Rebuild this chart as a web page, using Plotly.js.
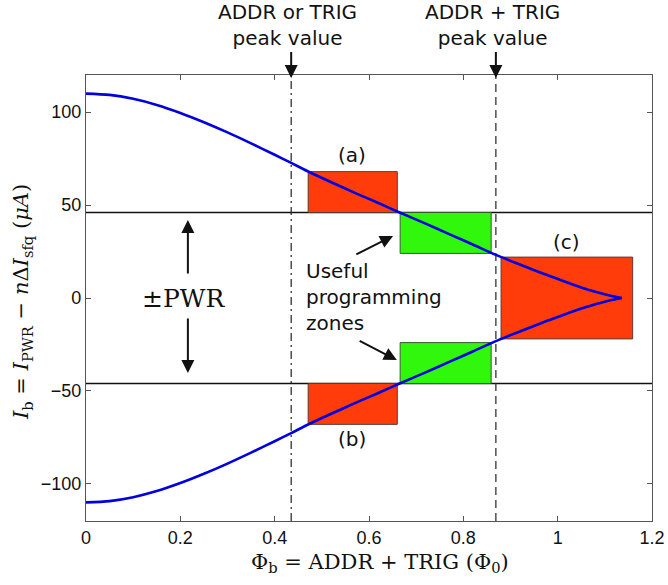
<!DOCTYPE html>
<html>
<head>
<meta charset="utf-8">
<script src="https://cdn.plot.ly/plotly-3.0.1.min.js"></script>
<style>html,body{margin:0;padding:0;background:#fff;}#chart{width:668px;height:585px;}</style>
</head>
<body>
<div id="chart"></div>
<script>
// Upper branch of the bias curve (phi in Phi0, current in uA)
var phiUpper = [0, 0.05, 0.1, 0.15, 0.2, 0.25, 0.3, 0.35, 0.4, 0.435, 0.47, 0.52, 0.57, 0.62, 0.665, 0.72, 0.77, 0.82, 0.869, 0.92, 0.97, 1.01, 1.05, 1.08, 1.11, 1.136];
var ibUpper  = [110, 109.3, 107.2, 103.9, 99.6, 94.6, 89.1, 83.2, 77.1, 72.7, 68.2, 62.3, 56.6, 51.1, 46, 40, 34.4, 28.8, 23.2, 18, 13, 9.3, 5.7, 3.3, 1.3, 0];
// Lower branch
var phiLower = [0, 0.05, 0.1, 0.15, 0.2, 0.25, 0.3, 0.35, 0.4, 0.435, 0.47, 0.52, 0.57, 0.62, 0.665, 0.72, 0.77, 0.82, 0.869, 0.92, 0.97, 1.01, 1.05, 1.08, 1.11, 1.136];
var ibLower  = [-110, -109.3, -107.2, -103.9, -99.6, -94.6, -89.1, -83.2, -77.1, -72.7, -68.2, -62.3, -56.6, -51.1, -46, -40, -34.4, -28.8, -23.2, -18, -13, -9.3, -5.7, -3.3, -1.3, 0];

// Power levels +/-PWR
var pwrLevels = [46, -46];
// Peak value markers
var peakPhi = [0.435, 0.869];
var peakLabels = ['ADDR or TRIG<br>peak value', 'ADDR + TRIG<br>peak value'];

// Zones: red (a), (b), (c)
var redX0 = [0.471, 0.471, 0.880];
var redX1 = [0.660, 0.660, 1.159];
var redY0 = [46, -68, -22];
var redY1 = [68, -46, 22];
var redLabels = ['(a)', '(b)', '(c)'];
var redLabelX = [0.564, 0.564, 1.019];
var redLabelY = [77, -76, 30];
// Green useful zones
var greenX0 = [0.666, 0.666];
var greenX1 = [0.859, 0.859];
var greenY0 = [24, -46];
var greenY1 = [46, -24];

var xTicks = [0, 0.2, 0.4, 0.6, 0.8, 1, 1.2];
var xTickText = ['0', '0.2', '0.4', '0.6', '0.8', '1', '1.2'];
var yTicks = [-100, -50, 0, 50, 100];
var yTickText = ['\u2212100', '\u221250', '0', '50', '100'];

var traces = [
  {x: phiUpper, y: ibUpper, mode: 'lines', line: {color: 'rgb(0,0,225)', width: 2.6, shape: 'spline', smoothing: 0.8}, hoverinfo: 'skip'},
  {x: phiLower, y: ibLower, mode: 'lines', line: {color: 'rgb(0,0,225)', width: 2.6, shape: 'spline', smoothing: 0.8}, hoverinfo: 'skip'}
];

var shapes = [];
for (var i = 0; i < redX0.length; i++) {
  shapes.push({type: 'rect', xref: 'x', yref: 'y', x0: redX0[i], x1: redX1[i], y0: redY0[i], y1: redY1[i],
    fillcolor: '#ff3c0a', line: {color: '#5a3a30', width: 1}, layer: 'below'});
}
for (var i = 0; i < greenX0.length; i++) {
  shapes.push({type: 'rect', xref: 'x', yref: 'y', x0: greenX0[i], x1: greenX1[i], y0: greenY0[i], y1: greenY1[i],
    fillcolor: '#30f70c', line: {color: '#3a5a30', width: 1}, layer: 'below'});
}
for (var i = 0; i < pwrLevels.length; i++) {
  shapes.push({type: 'line', xref: 'paper', yref: 'y', x0: 0, x1: 1, y0: pwrLevels[i], y1: pwrLevels[i],
    line: {color: '#111', width: 1.6}, layer: 'below'});
}
for (var i = 0; i < peakPhi.length; i++) {
  shapes.push({type: 'line', xref: 'x', yref: 'paper', x0: peakPhi[i], x1: peakPhi[i], y0: 0, y1: 1,
    line: {color: '#222', width: 1.2, dash: i === 0 ? '8px,4px,2px,4px' : '8px,5px'}, layer: 'below'});
}

var annFont = {family: 'DejaVu Sans, sans-serif', size: 20, color: '#111'};
var annotations = [];
for (var i = 0; i < peakPhi.length; i++) {
  annotations.push({xref: 'x', yref: 'paper', x: peakPhi[i], y: 0.993, yanchor: 'bottom', text: '', showarrow: true,
    arrowhead: 2, arrowsize: 1.3, arrowwidth: 2, arrowcolor: '#111', ax: 0, ay: -26, standoff: 0});
  annotations.push({xref: 'x', yref: 'paper', x: peakPhi[i] - 0.008, y: 1.112, yanchor: 'middle', xanchor: 'center',
    text: peakLabels[i], showarrow: false, font: annFont, align: 'center'});
}
for (var i = 0; i < redLabels.length; i++) {
  annotations.push({xref: 'x', yref: 'y', x: redLabelX[i], y: redLabelY[i], text: redLabels[i], showarrow: false, font: annFont});
}
// Useful programming zones
annotations.push({xref: 'x', yref: 'y', x: 0.462, y: 0.5, xanchor: 'left', align: 'left',
  text: 'Useful<br>programming<br>zones', showarrow: false, font: annFont});
annotations.push({xref: 'x', yref: 'y', axref: 'x', ayref: 'y', x: 0.651, y: 33.4, ax: 0.570, ay: 23.1, text: '',
  showarrow: true, arrowhead: 2, arrowsize: 1.3, arrowwidth: 2, arrowcolor: '#111'});
annotations.push({xref: 'x', yref: 'y', axref: 'x', ayref: 'y', x: 0.659, y: -33.4, ax: 0.577, ay: -22.6, text: '',
  showarrow: true, arrowhead: 2, arrowsize: 1.3, arrowwidth: 2, arrowcolor: '#111'});
// +/- PWR
annotations.push({xref: 'x', yref: 'y', x: 0.206, y: 0, text: '\u00b1PWR', showarrow: false,
  font: {family: 'DejaVu Serif, serif', size: 25, color: '#111'}});
annotations.push({xref: 'x', yref: 'y', axref: 'x', ayref: 'y', x: 0.216, y: 42, ax: 0.216, ay: 12.4, text: '',
  showarrow: true, arrowhead: 2, arrowsize: 1.3, arrowwidth: 2, arrowcolor: '#111'});
annotations.push({xref: 'x', yref: 'y', axref: 'x', ayref: 'y', x: 0.216, y: -40.4, ax: 0.216, ay: -10.2, text: '',
  showarrow: true, arrowhead: 2, arrowsize: 1.3, arrowwidth: 2, arrowcolor: '#111'});
// Axis titles
annotations.push({xref: 'paper', yref: 'paper', x: 0.52, y: -0.094, yanchor: 'middle', showarrow: false,
  text: '\u03a6<sub>b</sub> = ADDR + TRIG (\u03a6<sub>0</sub>)', font: {family: 'DejaVu Serif, serif', size: 21, color: '#111'}});
annotations.push({xref: 'paper', yref: 'paper', x: -0.112, y: 0.49, xanchor: 'center', yanchor: 'middle', textangle: -90, showarrow: false,
  text: '<i>I</i><sub>b</sub> = <i>I</i><sub>PWR</sub> \u2212 <i>n</i>\u0394<i>I</i><sub>sfq</sub> (<i>\u03bcA</i>)', font: {family: 'DejaVu Serif, serif', size: 21, color: '#111'}});

var axisCommon = {showgrid: false, zeroline: false, showline: true, linecolor: '#555', linewidth: 1.2,
  mirror: 'ticks', ticks: 'inside', ticklen: 5, tickcolor: '#555', tickwidth: 1,
  tickfont: {family: 'Liberation Sans, Arial, sans-serif', size: 18, color: '#111'}};

var layout = {
  width: 668, height: 585,
  margin: {l: 86, r: 16, t: 75, b: 64},
  paper_bgcolor: '#fff', plot_bgcolor: '#fff',
  showlegend: false,
  xaxis: Object.assign({}, axisCommon, {range: [0, 1.2], tickvals: xTicks, ticktext: xTickText}),
  yaxis: Object.assign({}, axisCommon, {range: [-120, 120], tickvals: yTicks, ticktext: yTickText}),
  shapes: shapes,
  annotations: annotations
};

Plotly.newPlot('chart', traces, layout, {staticPlot: true, displayModeBar: false});
</script>
</body>
</html>
